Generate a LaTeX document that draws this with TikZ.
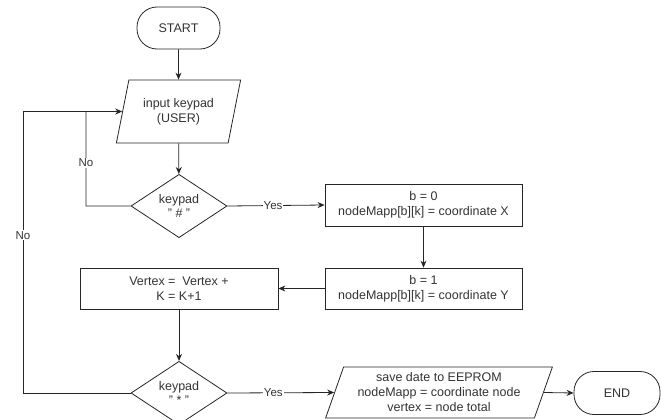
\documentclass[tikz,border=0pt]{standalone}
\usepackage{fontspec}
\setmainfont{Liberation Sans}
\usetikzlibrary{shapes.geometric,arrows.meta}
\begin{document}
\begin{tikzpicture}[x=1pt,y=-1pt,
  every node/.style={font=\fontsize{12.5}{15}\selectfont, text=black!80, align=center},
  base/.style={draw=black!85, line width=0.8pt, inner sep=0pt},
  term/.style={base, rectangle, rounded corners=20pt},
  procbox/.style={base, rectangle, minimum width=197pt, minimum height=41pt},
  iobox/.style={base, trapezium, trapezium stretches=true},
  decide/.style={base, diamond, minimum width=96pt, minimum height=62pt},
  arr/.style={draw=black!85, line width=0.8pt, -{Stealth[length=7pt,width=6pt]}},
  link/.style={draw=black!85, line width=0.8pt},
  lbl/.style={fill=white, inner sep=1pt, font=\fontsize{11.5}{13}\selectfont}
]
\useasboundingbox (0,0) rectangle (661,420);

% terminals
\node[term, minimum width=83pt, minimum height=42pt] (start) at (178.5,28) {START};
\node[term, minimum width=86pt, minimum height=43pt] (end) at (617,393) {END};

% input / output
\node[iobox, trapezium left angle=71.5, trapezium right angle=108.5,
      minimum width=125pt, minimum height=63pt] (input) at (178.5,111.5) {input keypad\\(USER)};
\node[iobox, trapezium left angle=68.6, trapezium right angle=111.4,
      minimum width=227pt, minimum height=51pt] (save) at (439,392.5)
      {save date to EEPROM\\nodeMapp = coordinate node\\vertex = node total};

% decisions
\node[decide] (dhash) at (179,206) {keypad\\[-1pt]" \# "};
\node[decide] (dstar) at (179,393) {keypad\\[-1pt]" * "};

% processes
\node[procbox, minimum height=42pt] (bx) at (423.5,205) {b = 0\\nodeMapp[b][k] = coordinate X};
\node[procbox] (by) at (423.5,288.5) {b = 1\\nodeMapp[b][k] = coordinate Y};
\node[procbox, minimum width=198pt] (vk) at (179,288.5) {Vertex =~ Vertex +\\K = K+1};

% loop-back corners
\coordinate (n1) at (86,206);
\coordinate (n1t) at (86,111.5);
\coordinate (n2) at (23,393);
\coordinate (n2t) at (23,111.5);

% main flow
\draw[arr] (start) -- (input);
\draw[arr] (input) -- (dhash);
\draw[arr] (dhash.east) -- node[lbl, pos=0.47]{Yes} (bx.west);
\draw[arr] (bx) -- (by);
\draw[arr] (by.west) -- (vk.east);
\draw[arr] (vk) -- (dstar);
\draw[arr] (dstar.east) -- node[lbl, pos=0.43]{Yes} (save.west);
\draw[arr] (save.east) -- (end.west);

% "No" branches back to the input
\draw[arr] (dhash.west) -- (n1) -- node[lbl, pos=0.46]{No} (n1t) -- (input.west);
\draw[link] (dstar.west) -- (n2) -- node[lbl, pos=0.56]{No} (n2t) -- (n1t);
\end{tikzpicture}
\end{document}
